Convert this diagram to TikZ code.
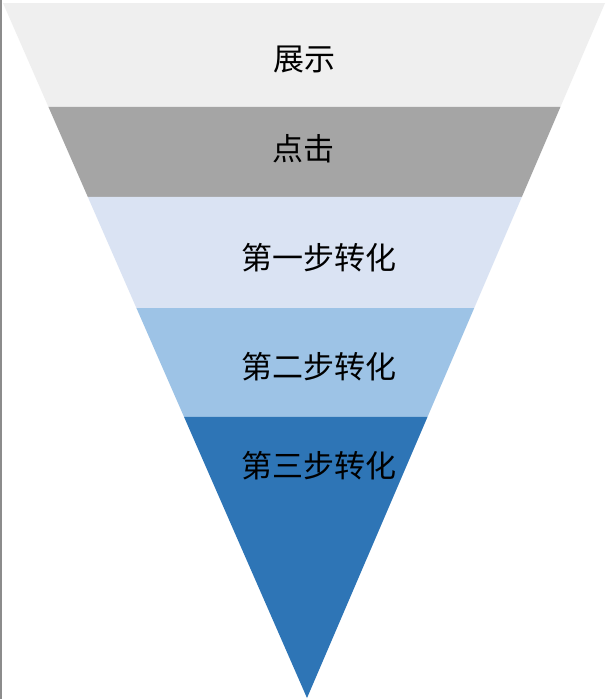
\documentclass[tikz,border=0pt]{standalone}
\usepackage{fontspec}
\newfontfamily\cjk{Noto Sans CJK SC}
\usetikzlibrary{calc}
\definecolor{c1}{HTML}{EFEFEF}
\definecolor{c2}{HTML}{A5A5A5}
\definecolor{c3}{HTML}{DAE3F3}
\definecolor{c4}{HTML}{9DC3E6}
\definecolor{c5}{HTML}{2E75B6}
\definecolor{frame}{HTML}{8C8C8C}
\begin{document}
\begin{tikzpicture}[x=1pt,y=-1pt,
  lbl/.style={font=\cjk\fontsize{31}{31}\selectfont, text=black, inner sep=0pt, anchor=center}]
\fill[white] (0,0) rectangle (608,699);
\useasboundingbox (0,0) rectangle (608,699);
\coordinate (TL) at (3,3);
\coordinate (TR) at (605,3);
\coordinate (A) at (307,698);
% slice boundaries as fractions along edges: y = 107,197,308,417
\coordinate (L1) at ($(TL)!{(107-3)/695}!(A)$);
\coordinate (R1) at ($(TR)!{(107-3)/695}!(A)$);
\coordinate (L2) at ($(TL)!{(197-3)/695}!(A)$);
\coordinate (R2) at ($(TR)!{(197-3)/695}!(A)$);
\coordinate (L3) at ($(TL)!{(308-3)/695}!(A)$);
\coordinate (R3) at ($(TR)!{(308-3)/695}!(A)$);
\coordinate (L4) at ($(TL)!{(417-3)/695}!(A)$);
\coordinate (R4) at ($(TR)!{(417-3)/695}!(A)$);
\fill[c1] (TL) -- (TR) -- (R1) -- (L1) -- cycle;
\fill[c2] (L1) -- (R1) -- (R2) -- (L2) -- cycle;
\fill[c3] (L2) -- (R2) -- (R3) -- (L3) -- cycle;
\fill[c4] (L3) -- (R3) -- (R4) -- (L4) -- cycle;
\fill[c5] (L4) -- (R4) -- (A) -- cycle;
\node[lbl] (t1) at (304,59.5) {展示};
\node[lbl] (t2) at (303.5,148.5) {点击};
\node[lbl] (t3) at (318.5,257.5) {第一步转化};
\node[lbl] (t4) at (318.5,366.5) {第二步转化};
\node[lbl] (t5) at (318.5,465.5) {第三步转化};
\draw[frame, line width=2pt] (1,0) -- (1,699);
\end{tikzpicture}
\end{document}
